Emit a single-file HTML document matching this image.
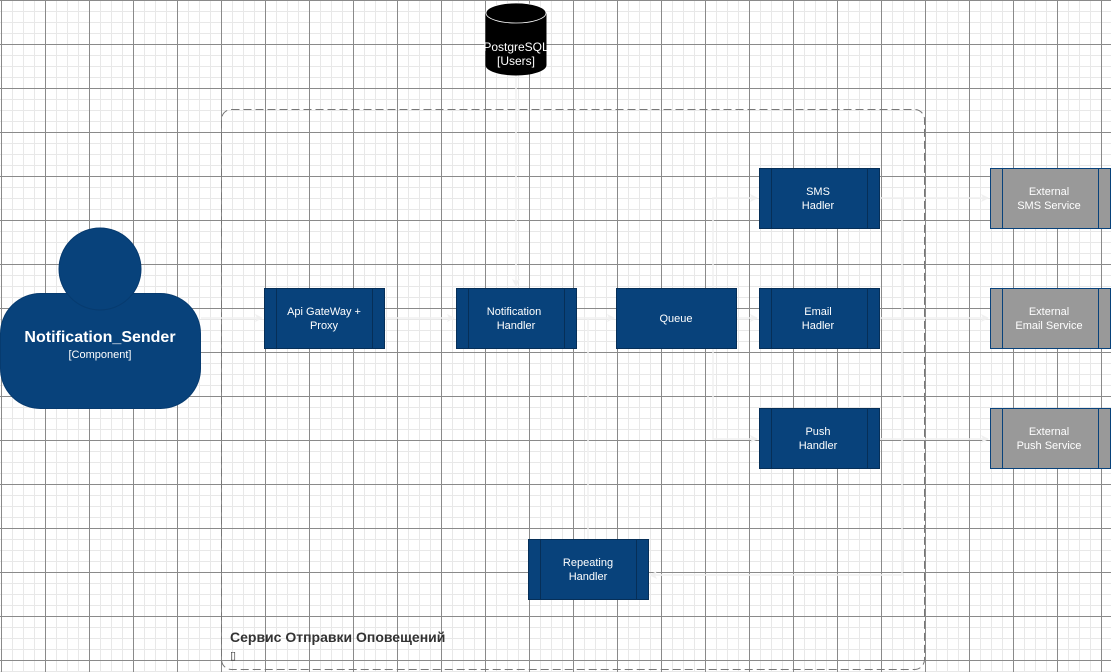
<!DOCTYPE html>
<html><head><meta charset="utf-8"><style>
html,body{margin:0;padding:0;}
body{width:1111px;height:672px;overflow:hidden;position:relative;background:#fff;
background-image:
linear-gradient(to right,#8a8a8a 1px,transparent 1px),
linear-gradient(to bottom,#8a8a8a 1px,transparent 1px),
linear-gradient(to right,#e8e8e8 1px,transparent 1px),
linear-gradient(to bottom,#e8e8e8 1px,transparent 1px);
background-size:44px 44px,44px 44px,11px 11px,11px 11px;
background-position:1px 0,0 0,1px 0,0 0;
font-family:"Liberation Sans","DejaVu Sans",sans-serif;}
svg{position:absolute;left:0;top:0;}
</style></head><body>
<svg width="1111" height="672" viewBox="0 0 1111 672" font-family="Liberation Sans, DejaVu Sans, sans-serif">
<defs><marker id="a" markerWidth="8" markerHeight="8" refX="7" refY="4" orient="auto" markerUnits="userSpaceOnUse"><path d="M0,0 L8,4 L0,8 L2,4 Z" fill="#f0f0f0"/></marker></defs>
<!-- container -->
<rect x="221.5" y="109.5" width="703" height="560" rx="10" fill="none" stroke="#777" stroke-width="1" stroke-dasharray="8,4"/>
<text x="230" y="642" font-size="14" font-weight="bold" fill="#333">Сервис Отправки Оповещений</text>
<text x="230" y="659" font-size="11" fill="#333">▯</text>
<!-- connectors -->
<g stroke="#f0f0f0" stroke-width="1.5" fill="none">
<path d="M201,318 H262" marker-end="url(#a)"/>
<path d="M384,318 H454" marker-end="url(#a)"/>
<path d="M516,75 V286" marker-end="url(#a)"/>
<path d="M577,318 H614" marker-end="url(#a)"/>
<path d="M736,318 H757" marker-end="url(#a)"/>
<path d="M713,288 V198 H757" marker-end="url(#a)"/>
<path d="M713,349 V439 H757" marker-end="url(#a)"/>
<path d="M880,198 H988" marker-end="url(#a)"/>
<path d="M880,318 H988" marker-end="url(#a)"/>
<path d="M880,439 H988" marker-end="url(#a)"/>
<path d="M902,198 V575 H650" marker-end="url(#a)"/>
<path d="M588,318 V539"/>
</g>
<!-- person -->
<rect x="0.5" y="293.5" width="200" height="115" rx="40" fill="#08427b" stroke="#073b6f"/>
<circle cx="100" cy="269" r="41" fill="#08427b" stroke="#073b6f"/>
<text x="100" y="342" font-size="16" font-weight="bold" fill="#fff" text-anchor="middle">Notification_Sender</text>
<text x="100" y="358" font-size="11" fill="#fff" text-anchor="middle">[Component]</text>
<!-- DB -->
<path d="M486,13 V65 A30,10 0 0 0 546,65 V13" fill="#000" stroke="#000"/>
<ellipse cx="516" cy="13" rx="30" ry="10" fill="#000" stroke="#fff" stroke-width="0.8"/>
<text x="516" y="51" font-size="12" fill="#fff" text-anchor="middle">PostgreSQL</text>
<text x="516" y="65" font-size="12" fill="#fff" text-anchor="middle">[Users]</text>
<!-- boxes -->
<g font-size="11" fill="#fff" text-anchor="middle">
<g>
<rect x="264.5" y="288.5" width="120" height="60" fill="#08427b" stroke="#062f58"/>
<line x1="276.5" y1="288.5" x2="276.5" y2="348.5" stroke="#062f58"/><line x1="372.5" y1="288.5" x2="372.5" y2="348.5" stroke="#062f58"/>
<text x="324" y="315">Api GateWay +</text><text x="324" y="329">Proxy</text>
</g>
<g>
<rect x="456.5" y="288.5" width="120" height="60" fill="#08427b" stroke="#062f58"/>
<line x1="468.5" y1="288.5" x2="468.5" y2="348.5" stroke="#062f58"/><line x1="564.5" y1="288.5" x2="564.5" y2="348.5" stroke="#062f58"/>
<text x="514" y="315">Notification</text><text x="516" y="329">Handler</text>
</g>
<g>
<rect x="616.5" y="288.5" width="120" height="60" fill="#08427b" stroke="#062f58"/>
<text x="676" y="322">Queue</text>
</g>
<g>
<rect x="759.5" y="168.5" width="120" height="60" fill="#08427b" stroke="#062f58"/>
<line x1="771.5" y1="168.5" x2="771.5" y2="228.5" stroke="#062f58"/><line x1="867.5" y1="168.5" x2="867.5" y2="228.5" stroke="#062f58"/>
<text x="818" y="195">SMS</text><text x="818" y="209">Hadler</text>
</g>
<g>
<rect x="759.5" y="288.5" width="120" height="60" fill="#08427b" stroke="#062f58"/>
<line x1="771.5" y1="288.5" x2="771.5" y2="348.5" stroke="#062f58"/><line x1="867.5" y1="288.5" x2="867.5" y2="348.5" stroke="#062f58"/>
<text x="818" y="315">Email</text><text x="818" y="329">Hadler</text>
</g>
<g>
<rect x="759.5" y="408.5" width="120" height="60" fill="#08427b" stroke="#062f58"/>
<line x1="771.5" y1="408.5" x2="771.5" y2="468.5" stroke="#062f58"/><line x1="867.5" y1="408.5" x2="867.5" y2="468.5" stroke="#062f58"/>
<text x="818" y="435">Push</text><text x="818" y="449">Handler</text>
</g>
<g>
<rect x="528.5" y="539.5" width="120" height="60" fill="#08427b" stroke="#062f58"/>
<line x1="540.5" y1="539.5" x2="540.5" y2="599.5" stroke="#062f58"/><line x1="636.5" y1="539.5" x2="636.5" y2="599.5" stroke="#062f58"/>
<text x="588" y="566">Repeating</text><text x="588" y="580">Handler</text>
</g>
<g>
<rect x="990.5" y="168.5" width="120" height="60" fill="#999" stroke="#08427b"/>
<line x1="1002.5" y1="168.5" x2="1002.5" y2="228.5" stroke="#08427b"/><line x1="1098.5" y1="168.5" x2="1098.5" y2="228.5" stroke="#08427b"/>
<text x="1049" y="195">External</text><text x="1049" y="209">SMS Service</text>
</g>
<g>
<rect x="990.5" y="288.5" width="120" height="60" fill="#999" stroke="#08427b"/>
<line x1="1002.5" y1="288.5" x2="1002.5" y2="348.5" stroke="#08427b"/><line x1="1098.5" y1="288.5" x2="1098.5" y2="348.5" stroke="#08427b"/>
<text x="1049" y="315">External</text><text x="1049" y="329">Email Service</text>
</g>
<g>
<rect x="990.5" y="408.5" width="120" height="60" fill="#999" stroke="#08427b"/>
<line x1="1002.5" y1="408.5" x2="1002.5" y2="468.5" stroke="#08427b"/><line x1="1098.5" y1="408.5" x2="1098.5" y2="468.5" stroke="#08427b"/>
<text x="1049" y="435">External</text><text x="1049" y="449">Push Service</text>
</g>
</g>
</svg>
</body></html>
